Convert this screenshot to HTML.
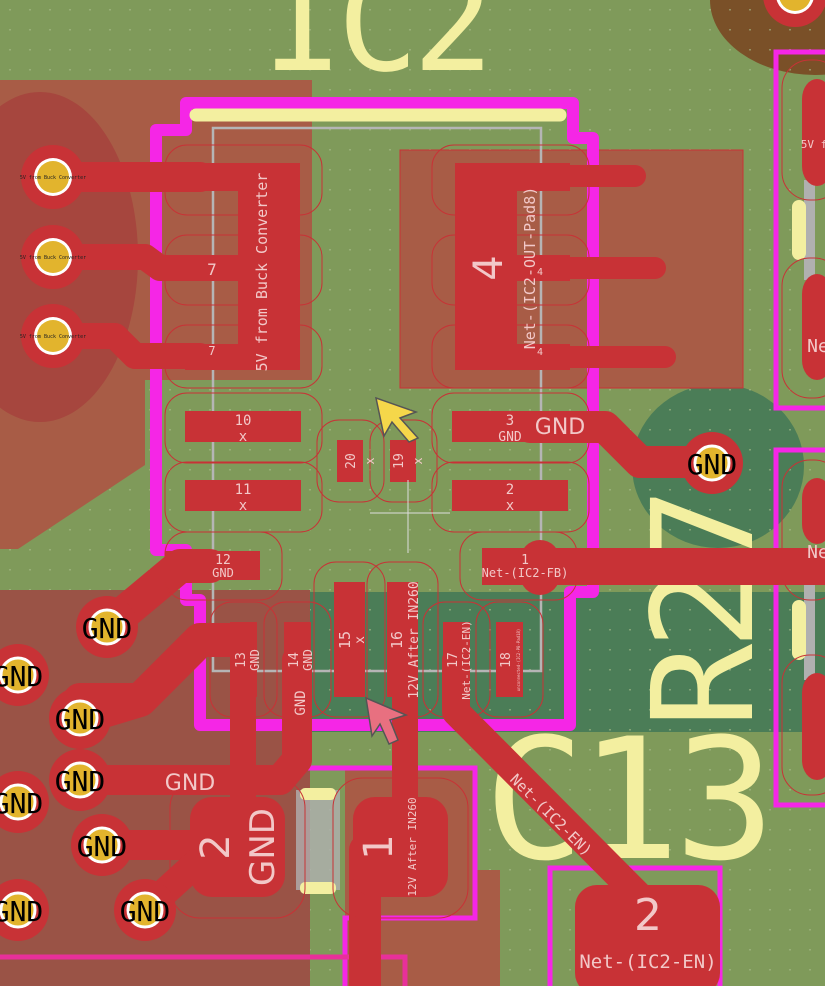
<!DOCTYPE html>
<html><head><meta charset="utf-8"><style>
html,body{margin:0;padding:0;background:#7f9a5a;}
svg{display:block}
text{font-family:"DejaVu Sans Mono","Liberation Mono",monospace;}
</style></head><body>
<svg width="825" height="986" viewBox="0 0 825 986" xmlns="http://www.w3.org/2000/svg">
<defs>
<pattern id="dots" width="20" height="20" patternUnits="userSpaceOnUse"><rect x="9" y="9" width="2" height="1.5" fill="#a9bd8c" opacity="0.6"/></pattern>
<clipPath id="lb"><path d="M0 80 H312 V380 H145 V465 L18 549 H0 Z"/></clipPath>
</defs>
<rect width="825" height="986" fill="#7f9a5a"/>
<rect x="0" y="592" width="825" height="140" fill="#4b7d57"/>
<ellipse cx="718" cy="466" rx="86" ry="82" fill="#4b7d57"/>
<ellipse cx="815" cy="0" rx="105" ry="75" fill="#7a5028"/>
<rect width="825" height="986" fill="url(#dots)"/>

<text x="262" y="70" font-size="135" fill="#f3efa0" letter-spacing="-6">IC2</text>
<text x="484" y="858" font-size="168" fill="#f3efa0" letter-spacing="-6">C13</text>
<text transform="translate(752,728) rotate(-90)" font-size="140" fill="#f3efa0" letter-spacing="-6">R27</text>

<path d="M0 80 H312 V380 H145 V465 L18 549 H0 Z" fill="#a85c46"/>
<ellipse cx="40" cy="257" rx="98" ry="165" fill="#a6463e" clip-path="url(#lb)"/>
<rect x="400" y="150" width="343" height="238" fill="#a85c46" stroke="#c83236" stroke-width="1"/>
<path d="M0 590 H310 V986 H0 Z" fill="#9a5346"/>
<rect x="345" y="768" width="130" height="218" fill="#a85c46"/>
<rect x="455" y="870" width="45" height="116" fill="#a85c46"/>

<path d="M186 103 H573 V138 H593 V592 H570 V725 H200 V600 H186 V550 H156 V130 H186 Z" fill="none" stroke="#f526e6" stroke-width="12" stroke-linejoin="round"/>
<rect x="776" y="52" width="60" height="356" fill="none" stroke="#f526e6" stroke-width="5"/>
<rect x="776" y="450" width="60" height="355" fill="none" stroke="#f526e6" stroke-width="5"/>
<path d="M290 768 H475 V918 H345 V986" fill="none" stroke="#f526e6" stroke-width="5"/>
<path d="M0 957 H405 V986" fill="none" stroke="#e8309a" stroke-width="5"/>
<path d="M550 986 V868 H720 V986" fill="none" stroke="#f526e6" stroke-width="5"/>
<rect x="213" y="128" width="328" height="543" fill="none" stroke="#b5b5b5" stroke-width="2.5"/>
<line x1="196" y1="115" x2="560" y2="115" stroke="#f3efa0" stroke-width="13" stroke-linecap="round"/>
<rect x="296" y="790" width="44" height="100" fill="#b0b0b0" opacity="0.8"/>
<rect x="300" y="788" width="36" height="12" rx="5" fill="#f3efa0"/>
<rect x="300" y="882" width="36" height="12" rx="5" fill="#f3efa0"/>
<rect x="804" y="180" width="11" height="100" fill="#b0b0b0"/>
<rect x="804" y="560" width="11" height="120" fill="#b0b0b0"/>
<rect x="792" y="200" width="14" height="60" rx="7" fill="#f3efa0"/>
<rect x="792" y="600" width="14" height="60" rx="7" fill="#f3efa0"/>

<g stroke="#c83236" stroke-linecap="round" stroke-linejoin="round" fill="none">
<path d="M53 177 H200" stroke-width="30"/>
<path d="M53 257 H145 L160 268 H200" stroke-width="26"/>
<path d="M53 336 H115 L135 356 H200" stroke-width="26"/>
<path d="M560 176 H635" stroke-width="22"/>
<path d="M560 268 H655" stroke-width="22"/>
<path d="M560 357 H665" stroke-width="22"/>
<path d="M530 427 H605 L640 462 H712" stroke-width="32"/>
<path d="M210 566 L180 566 L107 627" stroke-width="34"/>
<path d="M230 640 H200 L140 700 H80 M140 700 L80 718" stroke-width="34"/>
<path d="M297 660 V760 L280 780 H80" stroke-width="30"/>
<path d="M243 660 V800" stroke-width="26"/>
<path d="M405 640 V800" stroke-width="26"/>
<path d="M365 850 V986" stroke-width="32"/>
<path d="M456 660 V712 L648 905" stroke-width="28"/>
<path d="M102 845 H230" stroke-width="30"/>
<path d="M145 910 L200 860" stroke-width="28"/>
</g>
<rect x="482" y="548" width="343" height="37" fill="#c83236"/>
<rect x="520" y="540" width="40" height="55" rx="20" fill="#c83236"/>

<g fill="#c83236">
<rect x="238" y="163" width="62" height="207"/>
<rect x="185" y="163" width="60" height="28"/>
<rect x="185" y="255" width="60" height="26"/>
<rect x="185" y="344" width="60" height="26"/>
<rect x="455" y="163" width="62" height="207"/>
<rect x="510" y="163" width="60" height="28"/>
<rect x="510" y="255" width="60" height="26"/>
<rect x="510" y="344" width="60" height="26"/>
<rect x="185" y="411" width="116" height="31"/>
<rect x="185" y="480" width="116" height="31"/>
<rect x="452" y="411" width="116" height="31"/>
<rect x="452" y="480" width="116" height="31"/>
<rect x="337" y="440" width="26" height="42"/>
<rect x="390" y="440" width="26" height="42"/>
<rect x="165" y="551" width="95" height="29"/>
<rect x="230" y="622" width="27" height="75"/>
<rect x="284" y="622" width="27" height="75"/>
<rect x="334" y="582" width="31" height="115"/>
<rect x="387" y="582" width="31" height="115"/>
<rect x="443" y="622" width="27" height="75"/>
<rect x="496" y="622" width="27" height="75"/>
<rect x="190" y="797" width="95" height="100" rx="22"/>
<rect x="353" y="797" width="95" height="100" rx="22"/>
<rect x="575" y="885" width="145" height="110" rx="22"/>
<rect x="802" y="79" width="30" height="107" rx="20"/>
<rect x="802" y="274" width="30" height="106" rx="20"/>
<rect x="802" y="478" width="30" height="66" rx="20"/>
<rect x="802" y="673" width="30" height="107" rx="20"/>
</g>

<g fill="none" stroke="#c83236" stroke-width="1">
<rect x="165" y="393" width="157" height="70" rx="22"/>
<rect x="165" y="462" width="157" height="70" rx="22"/>
<rect x="432" y="393" width="157" height="70" rx="22"/>
<rect x="432" y="462" width="157" height="70" rx="22"/>
<rect x="317" y="420" width="67" height="82" rx="22"/>
<rect x="370" y="420" width="67" height="82" rx="22"/>
<rect x="165" y="532" width="117" height="68" rx="22"/>
<rect x="460" y="532" width="117" height="68" rx="22"/>
<rect x="210" y="602" width="67" height="115" rx="22"/>
<rect x="264" y="602" width="67" height="115" rx="22"/>
<rect x="314" y="562" width="71" height="155" rx="22"/>
<rect x="367" y="562" width="71" height="155" rx="22"/>
<rect x="423" y="602" width="67" height="115" rx="22"/>
<rect x="476" y="602" width="67" height="115" rx="22"/>
<rect x="165" y="145" width="157" height="70" rx="22"/>
<rect x="165" y="235" width="157" height="70" rx="22"/>
<rect x="165" y="325" width="157" height="63" rx="22"/>
<rect x="432" y="145" width="157" height="70" rx="22"/>
<rect x="432" y="235" width="157" height="70" rx="22"/>
<rect x="432" y="325" width="157" height="63" rx="22"/>
<rect x="170" y="778" width="135" height="140" rx="30"/>
<rect x="333" y="778" width="135" height="140" rx="30"/>
<rect x="782" y="60" width="60" height="140" rx="28"/>
<rect x="782" y="258" width="60" height="140" rx="28"/>
<rect x="782" y="460" width="60" height="140" rx="28"/>
<rect x="782" y="655" width="60" height="140" rx="28"/>
</g>

<g>
<circle cx="53" cy="177" r="32" fill="#c83236"/><circle cx="53" cy="177" r="19" fill="#fff"/><circle cx="53" cy="177" r="16" fill="#e2b42d"/>
<circle cx="53" cy="257" r="32" fill="#c83236"/><circle cx="53" cy="257" r="19" fill="#fff"/><circle cx="53" cy="257" r="16" fill="#e2b42d"/>
<circle cx="53" cy="336" r="32" fill="#c83236"/><circle cx="53" cy="336" r="19" fill="#fff"/><circle cx="53" cy="336" r="16" fill="#e2b42d"/>
<circle cx="795" cy="-5" r="32" fill="#c83236"/><circle cx="795" cy="-5" r="19" fill="#fff"/><circle cx="795" cy="-5" r="16" fill="#e2b42d"/>
</g>
<g font-size="5" fill="#222" text-anchor="middle">
<text x="53" y="179">5V from Buck Converter</text>
<text x="53" y="259">5V from Buck Converter</text>
<text x="53" y="338">5V from Buck Converter</text>
</g>
<g>
<g fill="#c83236">
<circle cx="107" cy="627" r="31"/><circle cx="18" cy="675" r="31"/><circle cx="80" cy="718" r="31"/><circle cx="80" cy="780" r="31"/><circle cx="18" cy="802" r="31"/><circle cx="102" cy="845" r="31"/><circle cx="18" cy="910" r="31"/><circle cx="145" cy="910" r="31"/><circle cx="712" cy="463" r="31"/>
</g>
<g fill="#e2b42d" stroke="#fff" stroke-width="3">
<circle cx="107" cy="627" r="17"/><circle cx="18" cy="675" r="17"/><circle cx="80" cy="718" r="17"/><circle cx="80" cy="780" r="17"/><circle cx="18" cy="802" r="17"/><circle cx="102" cy="845" r="17"/><circle cx="18" cy="910" r="17"/><circle cx="145" cy="910" r="17"/><circle cx="712" cy="463" r="17"/>
</g>
<g font-size="28" fill="#000" text-anchor="middle" style="font-family:'Liberation Sans',sans-serif">
<text x="107" y="638">GND</text><text x="18" y="686">GND</text><text x="80" y="729">GND</text><text x="80" y="791">GND</text><text x="18" y="813">GND</text><text x="102" y="856">GND</text><text x="18" y="921">GND</text><text x="145" y="921">GND</text><text x="712" y="474">GND</text>
</g>
</g>

<g fill="#f2c8c8" text-anchor="middle">
<text x="243" y="425" font-size="14">10</text><text x="243" y="441" font-size="14">x</text>
<text x="243" y="494" font-size="14">11</text><text x="243" y="510" font-size="14">x</text>
<text x="510" y="425" font-size="14">3</text><text x="510" y="441" font-size="13">GND</text>
<text x="510" y="494" font-size="14">2</text><text x="510" y="510" font-size="14">x</text>
<text x="223" y="564" font-size="13">12</text><text x="223" y="577" font-size="12">GND</text>
<text x="525" y="564" font-size="13">1</text><text x="525" y="577" font-size="12">Net-(IC2-FB)</text>
<text x="560" y="434" font-size="22" style="font-family:'DejaVu Sans',sans-serif">GND</text>
<text x="190" y="790" font-size="22" style="font-family:'DejaVu Sans',sans-serif">GND</text>
<text x="648" y="930" font-size="44" style="font-family:'DejaVu Sans',sans-serif">2</text>
<text x="648" y="968" font-size="19">Net-(IC2-EN)</text>
<text x="814" y="148" font-size="11">5V f</text>
<text x="818" y="352" font-size="18">Ne</text>
<text x="818" y="558" font-size="18">Ne</text>
<text x="212" y="275" font-size="16">7</text>
<text x="212" y="355" font-size="12">7</text>
<text x="540" y="275" font-size="10">4</text>
<text x="540" y="355" font-size="10">4</text>
</g>
<g fill="#f2c8c8" font-size="13" text-anchor="middle">
<text transform="translate(350,461) rotate(-90)" dy="5">20</text>
<text transform="translate(354,461) rotate(-90)" dy="20" font-size="12">x</text>
<text transform="translate(398,461) rotate(-90)" dy="5">19</text>
<text transform="translate(402,461) rotate(-90)" dy="20" font-size="12">x</text>
<text transform="translate(240,660) rotate(-90)" dy="5">13</text>
<text transform="translate(254,660) rotate(-90)" dy="5" font-size="12">GND</text>
<text transform="translate(293,660) rotate(-90)" dy="5">14</text>
<text transform="translate(307,660) rotate(-90)" dy="5" font-size="12">GND</text>
<text transform="translate(300,703) rotate(-90)" dy="5" font-size="14">GND</text>
<text transform="translate(345,640) rotate(-90)" dy="5" font-size="15">15</text>
<text transform="translate(359,640) rotate(-90)" dy="5">x</text>
<text transform="translate(397,640) rotate(-90)" dy="5" font-size="15">16</text>
<text transform="translate(413,640) rotate(-90)" dy="5">12V After IN260</text>
<text transform="translate(452,660) rotate(-90)" dy="5">17</text>
<text transform="translate(465,660) rotate(-90)" dy="5" font-size="11">Net-(IC2-EN)</text>
<text transform="translate(505,660) rotate(-90)" dy="5">18</text>
<text transform="translate(518,660) rotate(-90)" dy="2" font-size="4">unconnected-(IC2-P8-Pad18)</text>
<text transform="translate(262,272) rotate(-90)" dy="5" font-size="15">5V from Buck Converter</text>
<text transform="translate(530,268) rotate(-90)" dy="5" font-size="15">Net-(IC2-OUT-Pad8)</text>
<text transform="translate(488,268) rotate(-90)" dy="14" font-size="40" style="font-family:'DejaVu Sans',sans-serif">4</text>
<text transform="translate(215,847) rotate(-90)" dy="14" font-size="40" style="font-family:'DejaVu Sans',sans-serif">2</text>
<text transform="translate(262,847) rotate(-90)" dy="12" font-size="34" style="font-family:'DejaVu Sans',sans-serif">GND</text>
<text transform="translate(378,847) rotate(-90)" dy="14" font-size="40" style="font-family:'DejaVu Sans',sans-serif">1</text>
<text transform="translate(412,847) rotate(-90)" dy="4" font-size="11">12V After IN260</text>
<text transform="translate(551,815) rotate(45)" dy="5" font-size="15">Net-(IC2-EN)</text>
</g>

<path d="M376 398 L416 412 L400 418 L418 438 L409 442 L392 422 L384 436 Z" fill="#f5d74a" stroke="#555" stroke-width="1.5"/>
<path d="M366 698 L406 715 L390 720 L398 740 L389 744 L380 724 L372 736 Z" fill="#e87080" stroke="#555" stroke-width="1.5"/>
<line x1="370" y1="513" x2="450" y2="513" stroke="#ddd" stroke-width="1"/>
<line x1="408" y1="480" x2="408" y2="553" stroke="#ddd" stroke-width="1"/>
</svg>
</body></html>
